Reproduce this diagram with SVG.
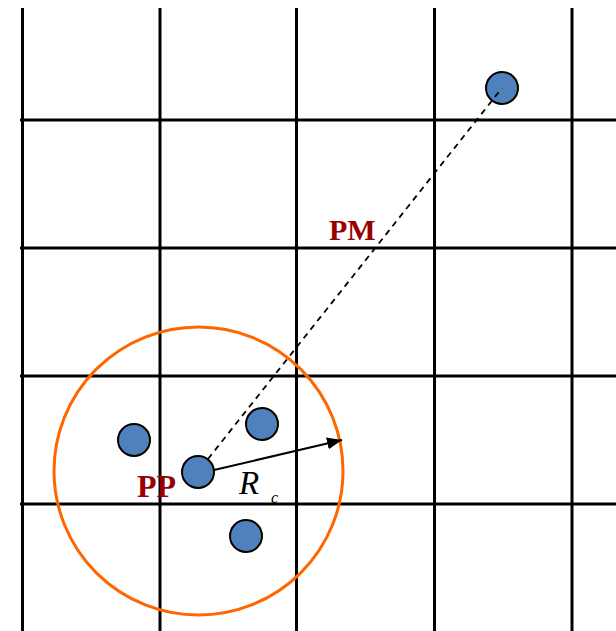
<svg xmlns="http://www.w3.org/2000/svg" width="616" height="631" viewBox="0 0 616 631">
<style>
.grid{stroke:#000;stroke-width:3;fill:none}
.pt{fill:#4F81BD;stroke:#000;stroke-width:2}
.lbl{font-family:"Liberation Serif",serif;font-weight:bold;fill:#990000}
</style>
<defs>
<marker id="ah" viewBox="0 0 10 10" refX="10" refY="5" markerWidth="15" markerHeight="15" markerUnits="userSpaceOnUse" orient="auto">
<path d="M0,1 L10,5 L0,9 Z" fill="#000"/>
</marker>
</defs>
<rect width="616" height="631" fill="#fff"/>
<g id="grid">
<line class="grid" x1="22.5" y1="8" x2="22.5" y2="631"/>
<line class="grid" x1="160" y1="8" x2="160" y2="631"/>
<line class="grid" x1="296.5" y1="8" x2="296.5" y2="631"/>
<line class="grid" x1="434.5" y1="8" x2="434.5" y2="631"/>
<line class="grid" x1="572" y1="8" x2="572" y2="631"/>
<line class="grid" x1="20" y1="120" x2="616" y2="120"/>
<line class="grid" x1="20" y1="248" x2="616" y2="248"/>
<line class="grid" x1="20" y1="376" x2="616" y2="376"/>
<line class="grid" x1="20" y1="504" x2="616" y2="504"/>
</g>
<g id="range">
<ellipse cx="198.5" cy="471" rx="144.5" ry="144" fill="none" stroke="#FF6600" stroke-width="3"/>
</g>
<g id="p1"><circle class="pt" cx="134" cy="440" r="16"/></g>
<g id="p2"><circle class="pt" cx="262" cy="424" r="16"/></g>
<g id="p3"><circle class="pt" cx="246" cy="536" r="16"/></g>
<g id="pp"><circle class="pt" cx="198" cy="472" r="16"/></g>
<g id="pm"><circle class="pt" cx="502" cy="88" r="16"/></g>
<g id="connectors">
<line x1="208" y1="459" x2="502" y2="88" stroke="#000" stroke-width="1.8" stroke-dasharray="6,5"/>
<line x1="214" y1="470" x2="342" y2="440" stroke="#000" stroke-width="2" marker-end="url(#ah)"/>
</g>
<g id="labels">
<text class="lbl" x="329" y="240" font-size="30">PM</text>
<text class="lbl" x="137" y="497" font-size="32">PP</text>
<text x="239" y="494" font-family="Liberation Serif,serif" font-style="italic" font-size="33">R</text>
<text x="271" y="503" font-family="Liberation Serif,serif" font-style="italic" font-size="16">c</text>
</g>
</svg>
